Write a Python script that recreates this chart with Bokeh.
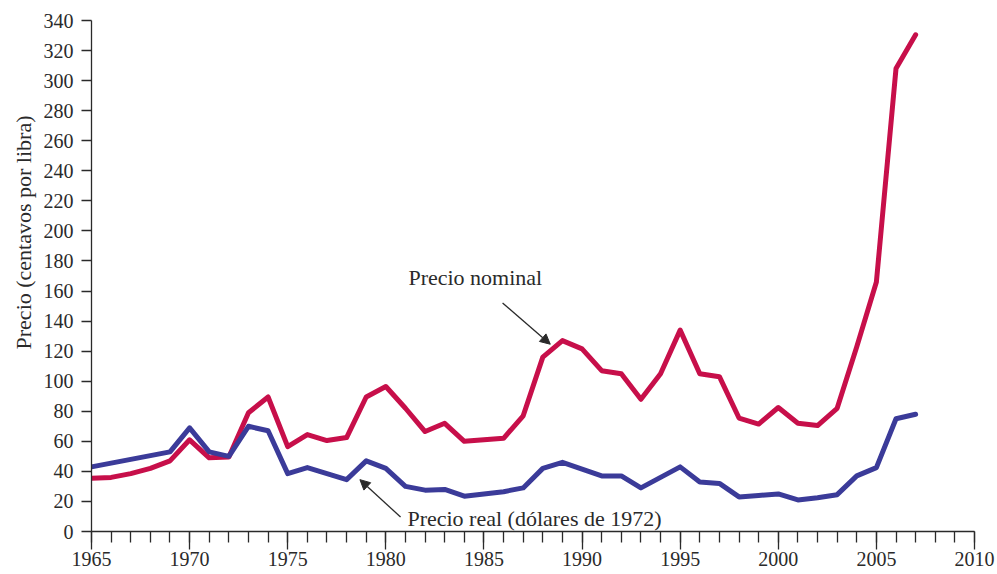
import math
from bokeh.plotting import figure
from bokeh.models import Range1d, SingleIntervalTicker, Label, Arrow, NormalHead, Title
from bokeh.embed import file_html
from bokeh.resources import INLINE

# ---- data ----
years = list(range(1965, 2008))
nominal_price = [35.5, 36, 38.5, 42, 47, 61, 49, 49.5, 79, 89.5,
                 56.5, 64.5, 60.5, 62.5, 89.5, 96.5, 82, 66.5, 72, 60,
                 61, 62, 77, 116, 127, 121.5, 107, 105, 88, 105,
                 134, 105, 103, 75.5, 71.5, 82.5, 72, 70.5, 82, 123,
                 166, 308, 330.5]
real_price = [43, 45.5, 48, 50.5, 53, 69, 53, 50, 70, 67,
              38.5, 42.5, 38.5, 34.5, 47, 42, 30, 27.5, 28, 23.5,
              25, 26.5, 29, 42, 46, 41.5, 37, 37, 29, 36,
              43, 33, 32, 23, 24, 25, 21, 22.5, 24.5, 37,
              42.5, 75, 78]

y_label = "Precio (centavos por libra)"
nominal_label = "Precio nominal"
real_label = "Precio real (dólares de 1972)"

FONT = "Liberation Serif"
RED = "#C70F4A"
BLUE = "#3B3B99"
INK = "#2a2a2a"

p = figure(width=995, height=572, output_backend="svg", toolbar_location=None,
           x_range=Range1d(1965, 2010), y_range=Range1d(0, 340),
           min_border_left=91, min_border_right=21, min_border_top=20,
           min_border_bottom=41)
p.outline_line_color = None
p.xgrid.grid_line_color = None
p.ygrid.grid_line_color = None

p.line(years, nominal_price, line_color=RED, line_width=5,
       line_join="round", line_cap="round")
p.line(years, real_price, line_color=BLUE, line_width=5,
       line_join="round", line_cap="round")

# axes
xa = p.xaxis[0]
xa.ticker = SingleIntervalTicker(interval=5, num_minor_ticks=5)
xa.major_tick_out = 18
xa.major_tick_in = 0
xa.minor_tick_out = 11
xa.minor_tick_in = 0
xa.major_label_standoff = 2
ya = p.yaxis[0]
ya.ticker = SingleIntervalTicker(interval=20, num_minor_ticks=0)
ya.major_tick_out = 10
ya.major_tick_in = 0
ya.major_label_standoff = 8
for ax in (xa, ya):
    ax.axis_line_color = INK
    ax.axis_line_width = 1.3
    ax.major_tick_line_color = INK
    ax.major_tick_line_width = 1.3
    ax.minor_tick_line_color = INK if ax is xa else None
    ax.minor_tick_line_width = 1.3
    ax.major_label_text_font = FONT
    ax.major_label_text_font_size = "20px"
    ax.major_label_text_color = INK

# y axis title (anchored near the top, as in the reference)
p.add_layout(Title(text=y_label, align="right", offset=95, standoff=10,
                   text_font=FONT, text_font_size="22px",
                   text_font_style="normal", text_color=INK), "left")

# annotations
p.add_layout(Label(x=1981.15, y=169, text=nominal_label, text_align="left",
                   text_baseline="middle", text_font=FONT,
                   text_font_size="22px", text_color=INK))
p.add_layout(Label(x=1981.1, y=8.6, text=real_label, text_align="left",
                   text_baseline="middle", text_font=FONT,
                   text_font_size="22px", text_color=INK))

p.add_layout(Arrow(x_start=1985.95, y_start=152.1, x_end=1988.38, y_end=124.6,
                   line_color=INK, line_width=1.3,
                   end=NormalHead(size=10, fill_color=INK, line_color=INK, line_width=1)))
p.add_layout(Arrow(x_start=1980.75, y_start=9.6, x_end=1978.68, y_end=34.5,
                   line_color=INK, line_width=1.3,
                   end=NormalHead(size=10, fill_color=INK, line_color=INK, line_width=1)))

open("out.html", "w").write(file_html(p, INLINE))
